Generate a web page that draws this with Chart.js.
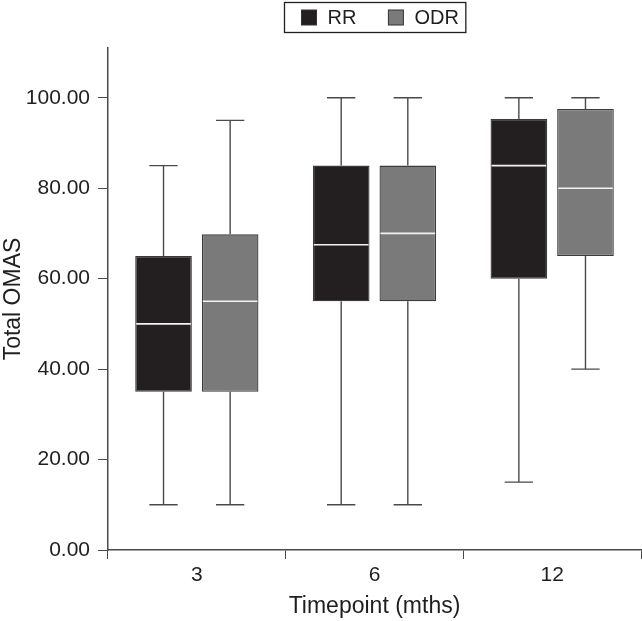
<!DOCTYPE html>
<html>
<head>
<meta charset="utf-8">
<title>Total OMAS by timepoint</title>
<script src="https://cdn.jsdelivr.net/npm/chart.js@4.4.1/dist/chart.umd.min.js"></script>
<style>
  html, body { margin: 0; padding: 0; background: #fff; }
  #wrap { width: 642px; height: 621px; }
</style>
</head>
<body>
<div id="wrap"><canvas id="chart"></canvas></div>
<script>
// timepoints (months)
const timepoints = ['3', '6', '12'];
const groups = ['RR', 'ODR'];

// box plot summaries, one value per timepoint
const rrMin = [10, 10, 15];
const rrQ1 = [35, 55, 60];
const rrMedian = [50, 67.5, 85];
const rrQ3 = [65, 85, 95.3];
const rrMax = [85, 100, 100];

const odrMin = [10, 10, 40];
const odrQ1 = [35, 55, 65];
const odrMedian = [55, 70, 80];
const odrQ3 = [69.8, 85, 97.5];
const odrMax = [95, 100, 100];

const yTicks = [0, 20, 40, 60, 80, 100];

const FONT = 'Liberation Sans, Arial, sans-serif';
const INK = '#1f1f1f';
const LINE = '#4a4a4a';

// whiskers + median lines, drawn on top of the floating bars
const boxPlot = {
  id: 'boxPlot',
  afterDatasetsDraw(chart) {
    const ctx = chart.ctx;
    const y = chart.scales.y;
    chart.data.datasets.forEach((ds, i) => {
      const meta = chart.getDatasetMeta(i);
      meta.data.forEach((bar, j) => {
        const half = bar.width / 2;
        const cap = bar.width / 4;
        const top = y.getPixelForValue(ds.q3[j]);
        const bot = y.getPixelForValue(ds.q1[j]);
        const hi = y.getPixelForValue(ds.max[j]);
        const lo = y.getPixelForValue(ds.min[j]);
        const med = y.getPixelForValue(ds.median[j]);
        ctx.save();
        ctx.strokeStyle = LINE;
        ctx.lineWidth = 1.4;
        ctx.beginPath();
        ctx.moveTo(bar.x, top); ctx.lineTo(bar.x, hi);
        ctx.moveTo(bar.x - cap, hi); ctx.lineTo(bar.x + cap, hi);
        ctx.moveTo(bar.x, bot); ctx.lineTo(bar.x, lo);
        ctx.moveTo(bar.x - cap, lo); ctx.lineTo(bar.x + cap, lo);
        ctx.stroke();
        ctx.strokeStyle = '#f2f2f2';
        ctx.lineWidth = 1.6;
        ctx.beginPath();
        ctx.moveTo(bar.x - half + 1, med); ctx.lineTo(bar.x + half - 1, med);
        ctx.stroke();
        ctx.restore();
      });
    });
  }
};

// framed legend centred over the plot area
const framedLegend = {
  id: 'framedLegend',
  afterDraw(chart) {
    const ctx = chart.ctx;
    const area = chart.chartArea;
    const sq = 15, gapText = 11, gapItem = 32, padX = 17, padR = 7;
    ctx.save();
    ctx.font = '20px ' + FONT;
    const items = chart.data.datasets.map(ds => ({
      text: ds.label, color: ds.backgroundColor, w: ctx.measureText(ds.label).width
    }));
    let total = padX + padR;
    items.forEach((it, k) => { total += sq + gapText + it.w + (k ? gapItem : 0); });
    const left = Math.round((area.left + area.right) / 2 - total / 2) + 0.5;
    const top = 2.5, h = 30, cy = top + h / 2;
    ctx.strokeStyle = INK;
    ctx.lineWidth = 1.3;
    ctx.strokeRect(left, top, total, h);
    let x = left + padX;
    items.forEach((it, k) => {
      if (k) x += gapItem;
      ctx.fillStyle = it.color;
      ctx.fillRect(x, cy - sq / 2, sq, sq);
      ctx.strokeStyle = '#333';
      ctx.lineWidth = 1;
      ctx.strokeRect(x, cy - sq / 2, sq, sq);
      x += sq + gapText;
      ctx.fillStyle = INK;
      ctx.textBaseline = 'middle';
      ctx.fillText(it.text, x, cy + 1);
      x += it.w;
    });
    ctx.restore();
  }
};

new Chart(document.getElementById('chart'), {
  type: 'bar',
  data: {
    labels: timepoints,
    datasets: [
      {
        label: groups[0],
        data: rrQ1.map((v, i) => [v, rrQ3[i]]),
        q1: rrQ1, q3: rrQ3, min: rrMin, max: rrMax, median: rrMedian,
        backgroundColor: '#231f20',
        borderColor: '#3a3a3a',
        borderWidth: 1.3,
        borderSkipped: false
      },
      {
        label: groups[1],
        data: odrQ1.map((v, i) => [v, odrQ3[i]]),
        q1: odrQ1, q3: odrQ3, min: odrMin, max: odrMax, median: odrMedian,
        backgroundColor: '#7a7a7a',
        borderColor: '#3a3a3a',
        borderWidth: 1.3,
        borderSkipped: false
      }
    ]
  },
  options: {
    responsive: true,
    maintainAspectRatio: false,
    animation: false,
    categoryPercentage: 0.75,
    barPercentage: 0.85,
    layout: { padding: { top: 48, right: 1, left: 0, bottom: 0 } },
    plugins: {
      legend: { display: false },
      tooltip: { enabled: false }
    },
    scales: {
      x: {
        afterFit(axis) { axis.height = 71; },
        grid: {
          offset: true,
          drawOnChartArea: false,
          drawTicks: true,
          tickLength: 9,
          color: LINE
        },
        border: { color: LINE, width: 1.5 },
        ticks: { color: INK, font: { family: FONT, size: 21 }, padding: 4 },
        title: {
          display: true,
          text: 'Timepoint (mths)',
          color: INK,
          font: { family: FONT, size: 23 },
          padding: { top: 3, bottom: 1 }
        }
      },
      y: {
        min: 0,
        max: 111,
        afterFit(axis) { axis.width = 108; },
        afterBuildTicks(axis) { axis.ticks = yTicks.map(v => ({ value: v })); },
        grid: {
          drawOnChartArea: false,
          drawTicks: true,
          tickLength: 10,
          color: LINE
        },
        border: { color: LINE, width: 1.5 },
        ticks: {
          color: INK,
          font: { family: FONT, size: 21 },
          padding: 8,
          callback: v => Number(v).toFixed(2)
        },
        title: {
          display: true,
          text: 'Total OMAS',
          color: INK,
          font: { family: FONT, size: 23 },
          padding: { top: 0, bottom: 0 }
        }
      }
    }
  },
  plugins: [boxPlot, framedLegend]
});
</script>
</body>
</html>
